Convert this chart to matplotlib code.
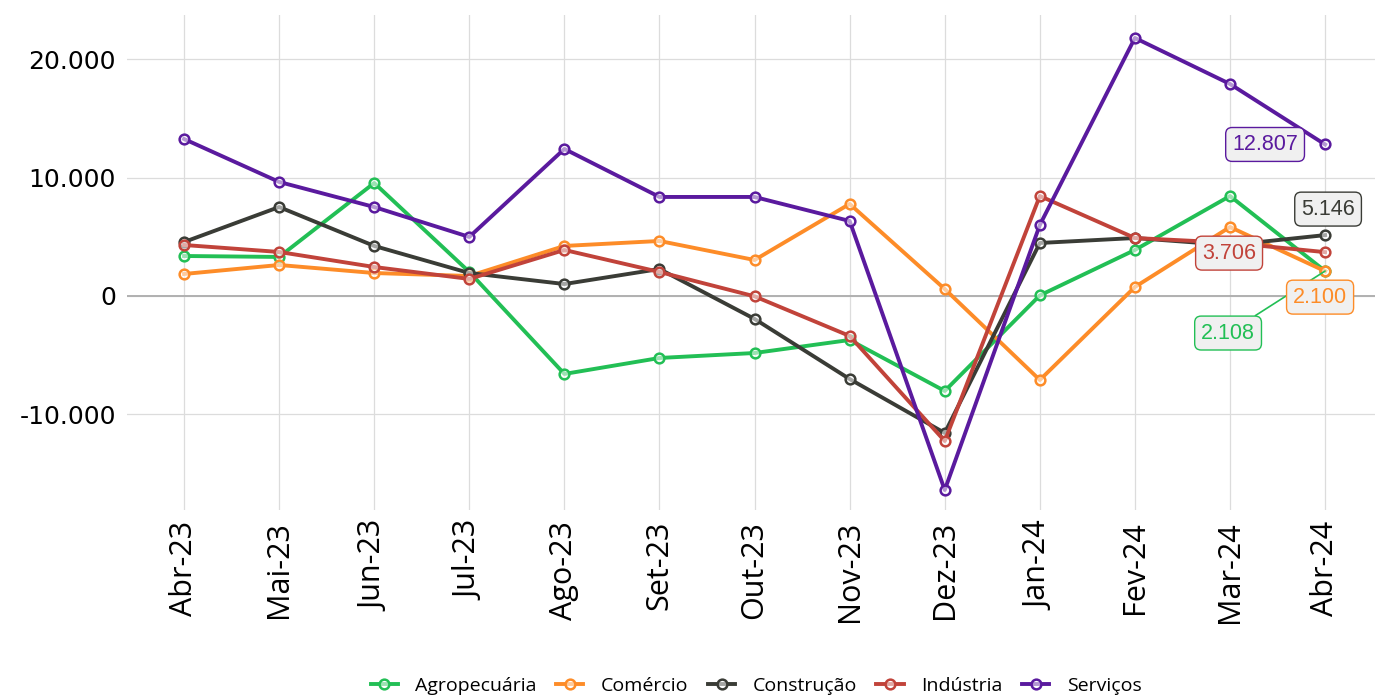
import numpy as np
import matplotlib.pyplot as plt

meses = ['Abr-23', 'Mai-23', 'Jun-23', 'Jul-23', 'Ago-23', 'Set-23', 'Out-23',
         'Nov-23', 'Dez-23', 'Jan-24', 'Fev-24', 'Mar-24', 'Abr-24']

agropecuaria = [3380, 3300, 9550, 2030, -6590, -5240, -4820, -3720, -8030, 50, 3890, 8450, 2108]
comercio = [1860, 2620, 1940, 1690, 4230, 4650, 3040, 7780, 590, -7100, 760, 5830, 2100]
construcao = [4560, 7520, 4230, 1940, 1010, 2280, -1940, -7020, -11580, 4480, 4900, 4300, 5146]
industria = [4310, 3720, 2450, 1440, 3890, 2030, -30, -3380, -12260, 8450, 4900, 4500, 3706]
servicos = [13270, 9640, 7520, 4990, 12430, 8370, 8370, 6340, -16400, 6000, 21810, 17920, 12807]

series = [
    ('Agropecuária', agropecuaria, '#22bf55'),
    ('Comércio', comercio, '#fd8c28'),
    ('Construção', construcao, '#3a3c36'),
    ('Indústria', industria, '#c1433a'),
    ('Serviços', servicos, '#5a1a9e'),
]

# label offsets (pixels) for last value
offsets = {
    'Agropecuária': (-97, -62),
    'Comércio': (-5, -26),
    'Construção': (3, 26),
    'Indústria': (-96, -1),
    'Serviços': (-60, 0),
}


def fmt(v):
    return f'{v:,.0f}'.replace(',', '.')


fig = plt.figure(figsize=(13.75, 6.97), dpi=100)
ax = fig.add_axes([127 / 1375, 1 - 510 / 697, 1 - 127 / 1375, (510 - 15) / 697])

x = np.arange(len(meses))
for nome, vals, cor in series:
    ax.plot(x, vals, color=cor, lw=2.8, marker='o', ms=7, mew=1.8,
            mfc=(1, 1, 1, 0.55), mec=cor, label=nome, zorder=3)

for nome, vals, cor in series:
    dx, dy = offsets[nome]
    arrow = None
    if nome == 'Agropecuária':
        arrow = dict(arrowstyle='-', color=cor, lw=1.2, shrinkA=0, shrinkB=0)
    ax.annotate(fmt(vals[-1]), (x[-1], vals[-1]), xytext=(dx, dy),
                textcoords='offset pixels', ha='center', va='center',
                fontsize=15.5, family=['Liberation Sans', 'Arial'], color=cor,
                bbox=dict(boxstyle='round,pad=0.3,rounding_size=0.3',
                          fc='#f0f0f0', ec=cor, lw=1.0),
                arrowprops=arrow, zorder=5)

ax.axhline(0, color='#b0b0b0', lw=1.4, zorder=1)
ax.set_xlim(-0.6, 12.525)
ax.set_ylim(-18090, 23750)
ax.set_xticks(x)
ax.set_xticklabels(meses, rotation=90, fontsize=22, family='Open Sans')
ax.set_yticks([-10000, 0, 10000, 20000])
ax.set_yticklabels([fmt(v) for v in [-10000, 0, 10000, 20000]],
                   fontsize=18, family='DejaVu Sans')
ax.grid(True, color='#dcdcdc', lw=0.9)
ax.set_axisbelow(True)
ax.tick_params(length=0, pad=8)
for s in ax.spines.values():
    s.set_visible(False)

handles, labels = ax.get_legend_handles_labels()
fig.legend(handles, labels, loc='center', bbox_to_anchor=(756 / 1375, 1 - 686 / 697),
           ncol=5, frameon=False, prop={'family': 'Open Sans', 'size': 14},
           handlelength=1.4, columnspacing=1.0, handletextpad=0.9)

fig.savefig('out.png', dpi=100)
